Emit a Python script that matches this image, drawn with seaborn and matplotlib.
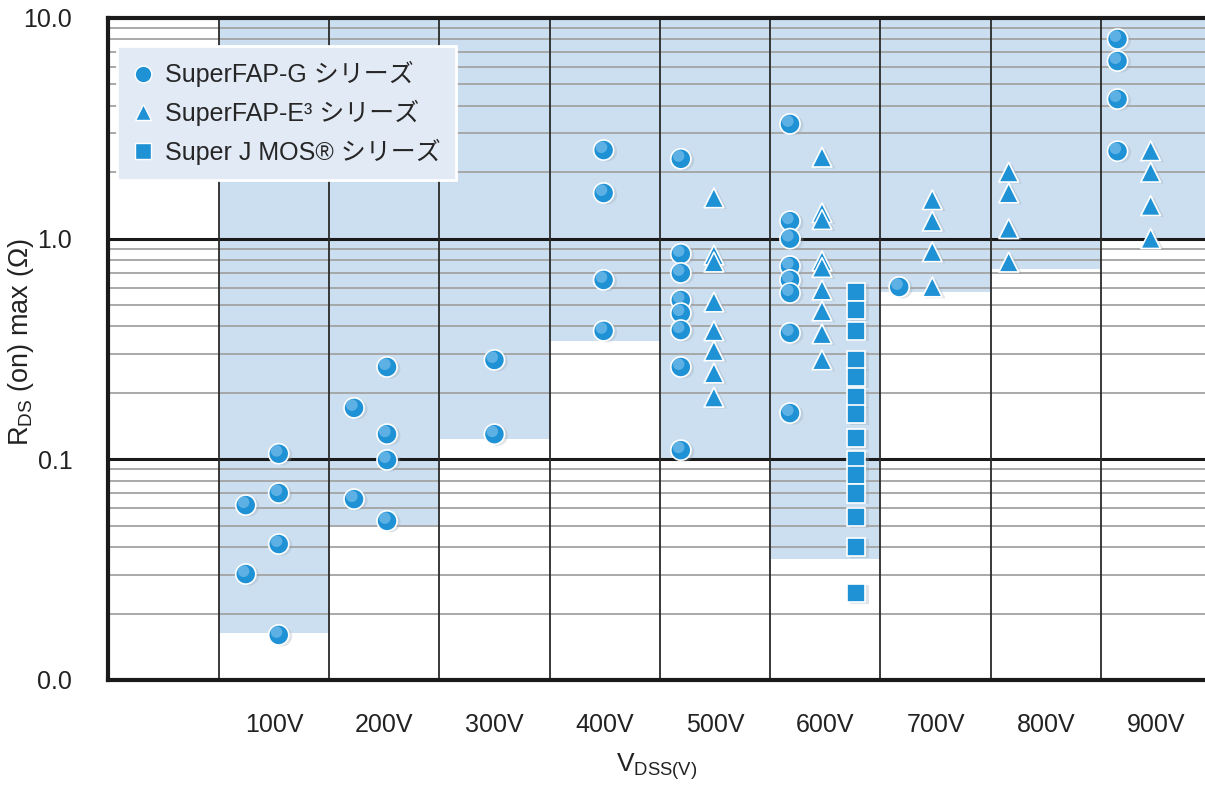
import numpy as np
import pandas as pd
import matplotlib
matplotlib.use("Agg")
import matplotlib.pyplot as plt
from matplotlib.lines import Line2D
import seaborn as sns

# ---------------- data ----------------
columns = ["100V", "200V", "300V", "400V", "500V", "600V", "700V", "800V", "900V"]
shade_bottom = [0.0163, 0.050, 0.124, 0.344, 0.100, 0.0354, 0.575, 0.73, 1.0]

# SuperFAP-G (circles)
g_volt = ["100V"] * 6 + ["200V"] * 6 + ["300V"] * 2 + ["400V"] * 4 + ["500V"] * 8 + ["600V"] * 8 + ["700V"] + ["900V"] * 4
g_lane = [0.245, 0.245, 0.544, 0.544, 0.544, 0.544,
          0.227, 0.227, 0.526, 0.526, 0.526, 0.526,
          0.50, 0.50,
          0.49, 0.49, 0.49, 0.49,
          0.19, 0.19, 0.19, 0.19, 0.19, 0.19, 0.19, 0.19,
          0.18, 0.18, 0.18, 0.18, 0.18, 0.18, 0.18, 0.18,
          0.17,
          0.15, 0.15, 0.15, 0.15]
g_val = [0.062, 0.0302, 0.106, 0.0703, 0.0413, 0.016,
         0.171, 0.066, 0.262, 0.130, 0.0993, 0.0526,
         0.282, 0.130,
         2.52, 1.61, 0.65, 0.382,
         2.30, 0.853, 0.699, 0.527, 0.46, 0.385, 0.262, 0.110,
         3.31, 1.20, 1.0, 0.751, 0.650, 0.567, 0.374, 0.162,
         0.604,
         8.03, 6.38, 4.29, 2.49]

# SuperFAP-E3 (triangles)
e_volt = ["500V"] * 8 + ["600V"] * 9 + ["700V"] * 4 + ["800V"] * 4 + ["900V"] * 4
e_lane = [0.49] * 8 + [0.47] * 9 + [0.47] * 4 + [0.163] * 4 + [0.45] * 4
e_val = [1.53, 0.843, 0.783, 0.516, 0.382, 0.310, 0.246, 0.191,
         2.34, 1.31, 1.22, 0.792, 0.74, 0.585, 0.470, 0.370, 0.282,
         1.50, 1.20, 0.871, 0.604,
         2.00, 1.61, 1.11, 0.783,
         2.5, 2.0, 1.41, 1.0]

# Super J MOS (squares)
j_volt = ["600V"] * 14
j_lane = [0.78] * 14
j_val = [0.573, 0.475, 0.382, 0.282, 0.236, 0.191, 0.160, 0.125,
         0.099, 0.085, 0.070, 0.0548, 0.040, 0.0248]

series_names = ["SuperFAP-G シリーズ", "SuperFAP-E³ シリーズ", "Super J MOS® シリーズ"]
y_ticks = [0.01, 0.1, 1.0, 10.0]
y_ticklabels = ["0.0", "0.1", "1.0", "10.0"]

# ---------------- style ----------------
sns.set_style("white")
plt.rcParams["font.family"] = ["Liberation Sans", "Noto Sans CJK JP", "DejaVu Sans"]
plt.rcParams["mathtext.fontset"] = "custom"
plt.rcParams["mathtext.rm"] = "Liberation Sans"

shade_color = "#cbdff1"
marker_color = "#1f92d6"
grid_gray = "#a3a3a3"
text_color = "#222222"

def frame(volts, lanes, vals, name):
    x = [columns.index(v) + 1 + l for v, l in zip(volts, lanes)]
    return pd.DataFrame({"x": x, "y": vals, "series": name})

df = pd.concat([frame(g_volt, g_lane, g_val, series_names[0]),
                frame(e_volt, e_lane, e_val, series_names[1]),
                frame(j_volt, j_lane, j_val, series_names[2])], ignore_index=True)

fig = plt.figure(figsize=(12.05, 7.85), dpi=100)
ax = fig.add_axes([0.0900, 0.1338, 0.9100, 0.8433])
ax.set_yscale("log")
xmax = 1097 / 110.33
ax.set_xlim(0, xmax)
ax.set_ylim(0.01, 10)

# shaded ranges
xpos = np.arange(len(columns)) + 1.5
ax.bar(xpos, [10 - b for b in shade_bottom], bottom=shade_bottom, width=1.0,
       color=shade_color, edgecolor="none", zorder=0)

# minor grid
for d in [0.01, 0.1, 1.0]:
    for m in range(2, 10):
        ax.axhline(d * m, color=grid_gray, lw=1.3, zorder=1)
for d in [0.1, 1.0]:
    ax.axhline(d, color="#1a1a1a", lw=2.2, zorder=1.5)
for k in range(1, len(columns) + 1):
    ax.axvline(k, color="#2a2a2a", lw=1.3, zorder=1.5)

# shadow markers
markers = {series_names[0]: "o", series_names[1]: "^", series_names[2]: "s"}
sizes = {series_names[0]: 210, series_names[1]: 200, series_names[2]: 175}
for name, sub in df.groupby("series"):
    ax.scatter(sub["x"] + 0.03, sub["y"] * 0.985, marker=markers[name], s=sizes[name],
               color="#9aa7b3", alpha=0.3, edgecolors="none", zorder=2)

sns.scatterplot(data=df, x="x", y="y", style="series", markers=markers,
                size="series", sizes=sizes, color=marker_color,
                edgecolor="white", linewidth=1.2, legend=False, ax=ax, zorder=3)

# highlights for 3D look
hl = df[df["series"] == series_names[0]]
ax.scatter(hl["x"] - 0.02, hl["y"] * 1.03, marker="o", s=70, color="#8fcaf0",
           alpha=0.55, edgecolors="none", zorder=4)

# axes styling
for side in ["left", "bottom", "top"]:
    ax.spines[side].set_visible(True)
    ax.spines[side].set_color("#1a1a1a")
    ax.spines[side].set_linewidth(3)
ax.spines["right"].set_visible(False)

ax.set_yticks(y_ticks)
ax.set_yticklabels(y_ticklabels)
ax.yaxis.set_minor_locator(matplotlib.ticker.NullLocator())
ax.set_xticks(xpos)
ax.set_xticklabels(columns)
ax.tick_params(axis="both", length=0, labelsize=18, colors=text_color)
ax.tick_params(axis="y", pad=26)
ax.tick_params(axis="x", pad=24)

ax.set_ylabel(r"R$_{\mathregular{DS}}$ (on) max (Ω)", fontsize=19.5, color=text_color)
ax.set_xlabel(r"V$_{\mathregular{DSS(V)}}$", fontsize=19, color=text_color)
ax.yaxis.set_label_coords(-0.066, 0.51)
ax.xaxis.set_label_coords(0.5, -0.108)

# legend
handles = [Line2D([], [], marker=markers[n], linestyle="none", markersize=12,
                  markerfacecolor=marker_color, markeredgecolor="white", markeredgewidth=1.0)
           for n in series_names]
leg = ax.legend(handles, series_names, loc="upper left", bbox_to_anchor=(0.008, 0.958),
                fontsize=18, frameon=True, fancybox=False, shadow=False,
                labelspacing=0.5, handletextpad=0.48, borderpad=0.62, handlelength=0.8,
                borderaxespad=0)
leg.get_frame().set_facecolor("#e2eaf6")
leg.get_frame().set_edgecolor("white")
leg.get_frame().set_linewidth(2)
leg.get_frame().set_alpha(1)
leg.set_zorder(10)

fig.savefig("out.png", dpi=100)
